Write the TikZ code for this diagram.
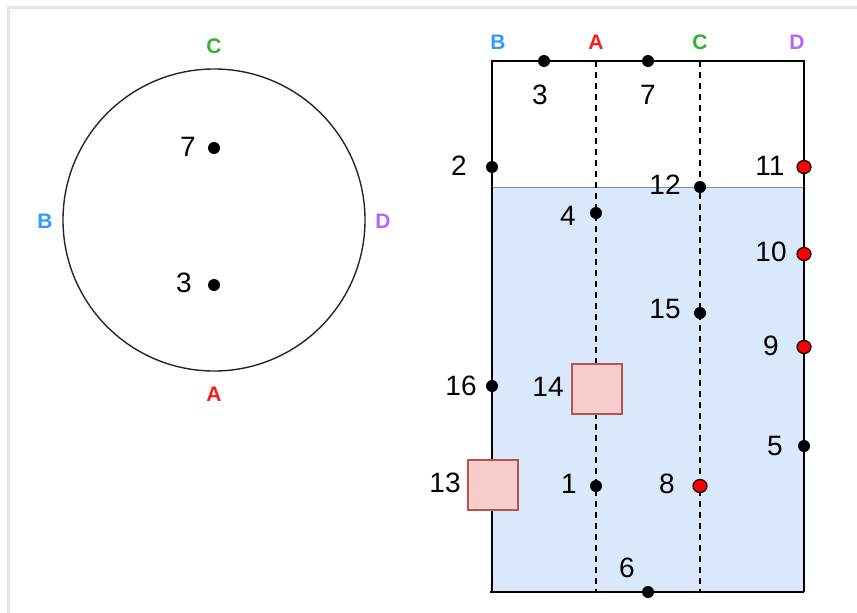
\documentclass[tikz,border=0pt]{standalone}
\usepackage{fontspec}
\setmainfont{Liberation Sans}
\usepackage{tikz}

\definecolor{waterfill}{HTML}{DAE8FC}
\definecolor{waterline}{HTML}{6C8EBF}
\definecolor{boxfill}{HTML}{F8CECC}
\definecolor{boxline}{HTML}{B85450}
\definecolor{colA}{HTML}{FF1A1A}
\definecolor{colB}{HTML}{3399FF}
\definecolor{colC}{HTML}{33B033}
\definecolor{colD}{HTML}{B266FF}

\begin{document}
\begin{tikzpicture}[x=1pt, y=-1pt,
    num/.style={font=\fontsize{28}{30}\selectfont, inner sep=0pt},
    side/.style={font=\bfseries\fontsize{21}{24}\selectfont, inner sep=0pt},
    weight/.style={draw=boxline, fill=boxfill, line width=1.2pt, minimum size=50pt, inner sep=0pt}]
    \useasboundingbox (0,0) rectangle (857,613);
    \draw[black!10, line width=3pt] (8,613) -- (8,7) -- (857,7);

    % circle seen from above
    \coordinate (O) at (214,220);
    \draw[black!85, line width=1.4pt] (O) circle (151pt);
    \node[side, text=colC] (cC) at (214,46) {C};
    \node[side, text=colB] (cB) at (45,221) {B};
    \node[side, text=colD] (cD) at (383,221) {D};
    \node[side, text=colA] (cA) at (214,394) {A};
    \coordinate (c7) at (214,148);
    \coordinate (c3) at (214,285);
    \node[num] (lc7) at (188,147) {7};
    \node[num] (lc3) at (184,283) {3};
    \foreach \p in {c7,c3} {\fill (\p) circle (6pt);}

    % tank seen from the side
    \coordinate (TL) at (492,61);
    \coordinate (TR) at (804,61);
    \coordinate (BL) at (492,592);
    \coordinate (BR) at (804,592);
    \coordinate (WL) at (492,187);
    \coordinate (WR) at (804,187);
    \fill[waterfill] (WL) rectangle (BR);
    \draw[waterline, line width=1pt] (WL) -- (WR);
    \draw[line width=1.5pt] (BL) -- (TL) -- (TR) -- (BR);
    \draw[line width=1.5pt] (490,592) -- (BR);
    \draw[line width=1.5pt, dash pattern=on 6pt off 5pt] (596,61) -- (596,592);
    \draw[line width=1.5pt, dash pattern=on 6pt off 5pt] (700,61) -- (700,592);

    \node[side, text=colB] (tB) at (498,42) {B};
    \node[side, text=colA] (tA) at (596,42) {A};
    \node[side, text=colC] (tC) at (700,42) {C};
    \node[side, text=colD] (tD) at (797,42) {D};

    \node[weight] (w14) at (597,389) {};
    \node[weight] (w13) at (493,485) {};

    \coordinate (p1) at (596,486);
    \coordinate (p2) at (492,167);
    \coordinate (p3) at (544,61);
    \coordinate (p4) at (596,213);
    \coordinate (p5) at (804,446);
    \coordinate (p6) at (648,592);
    \coordinate (p7) at (648,61);
    \coordinate (p8) at (700,486);
    \coordinate (p9) at (804,347);
    \coordinate (p10) at (804,254);
    \coordinate (p11) at (804,167);
    \coordinate (p12) at (700,187);
    \coordinate (p15) at (700,313);
    \coordinate (p16) at (492,386);
    \foreach \p in {p1,p2,p3,p4,p5,p6,p7,p12,p15,p16} {\fill (\p) circle (6pt);}
    \foreach \p in {p8,p9,p10,p11} {\filldraw[fill=red, draw=black, line width=1.2pt] (\p) ellipse (7pt and 6.5pt);}

    \node[num] (l1) at (569,484) {1};
    \node[num] (l2) at (459,166) {2};
    \node[num] (l3) at (540,95) {3};
    \node[num] (l4) at (568,216) {4};
    \node[num] (l5) at (775,446) {5};
    \node[num] (l6) at (627,568) {6};
    \node[num] (l7) at (648,95) {7};
    \node[num] (l8) at (667,484) {8};
    \node[num] (l9) at (771,346) {9};
    \node[num] (l10) at (771,252) {10};
    \node[num] (l11) at (770,166) {11};
    \node[num] (l12) at (665,185) {12};
    \node[num] (l13) at (445,483) {13};
    \node[num] (l14) at (548,387) {14};
    \node[num] (l15) at (665,309) {15};
    \node[num] (l16) at (461,386) {16};
\end{tikzpicture}
\end{document}
